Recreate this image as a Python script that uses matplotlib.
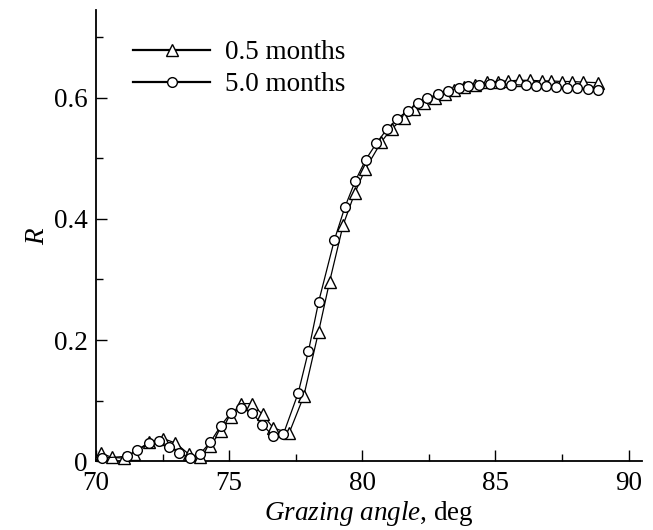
import matplotlib
matplotlib.use("Agg")
import matplotlib.pyplot as plt
from matplotlib.lines import Line2D
from matplotlib.ticker import MultipleLocator, FuncFormatter

plt.rcParams['font.family'] = ['Liberation Serif', 'DejaVu Serif']
plt.rcParams['mathtext.fontset'] = 'custom'
plt.rcParams['mathtext.it'] = 'Liberation Serif:italic'
plt.rcParams['mathtext.rm'] = 'Liberation Serif'

# 0.5 months (triangles)
angle_05 = [70.2, 70.6, 71.05, 71.43, 71.98, 72.53, 72.98, 73.5, 73.9, 74.28,
            74.68, 75.07, 75.46, 75.84, 76.26, 76.65, 77.25, 77.8, 78.36, 78.77,
            79.28, 79.72, 80.11, 80.71, 81.1, 81.55, 81.94, 82.33, 82.73, 83.09,
            83.46, 83.83, 84.22, 84.69, 85.08, 85.47, 85.87, 86.3, 86.73, 87.09,
            87.49, 87.86, 88.3, 88.86]
r_05 = [0.013, 0.006, 0.005, 0.012, 0.031, 0.037, 0.030, 0.011, 0.006, 0.025,
        0.049, 0.073, 0.095, 0.095, 0.077, 0.055, 0.046, 0.107, 0.214, 0.296,
        0.390, 0.443, 0.482, 0.527, 0.549, 0.566, 0.581, 0.591, 0.600, 0.607,
        0.613, 0.618, 0.622, 0.626, 0.627, 0.628, 0.629, 0.629, 0.628, 0.628,
        0.627, 0.627, 0.626, 0.625]

# 5.0 months (circles)
angle_50 = [70.22, 71.18, 71.55, 71.98, 72.37, 72.75, 73.13, 73.52, 73.89, 74.29,
            74.68, 75.07, 75.46, 75.85, 76.25, 76.64, 77.04, 77.59, 77.98, 78.36,
            78.95, 79.35, 79.74, 80.13, 80.53, 80.92, 81.31, 81.7, 82.1, 82.44,
            82.85, 83.23, 83.62, 83.98, 84.37, 84.8, 85.19, 85.59, 86.15, 86.54,
            86.89, 87.28, 87.67, 88.07, 88.46, 88.85]
r_50 = [0.005, 0.008, 0.019, 0.030, 0.033, 0.024, 0.013, 0.005, 0.011, 0.031,
        0.058, 0.080, 0.088, 0.080, 0.060, 0.042, 0.045, 0.112, 0.182, 0.263,
        0.365, 0.420, 0.463, 0.498, 0.525, 0.548, 0.565, 0.579, 0.591, 0.600,
        0.606, 0.612, 0.616, 0.620, 0.621, 0.623, 0.623, 0.622, 0.621, 0.620,
        0.620, 0.618, 0.617, 0.616, 0.615, 0.613]

fig = plt.figure(figsize=(6.53, 5.30), dpi=100)
ax = fig.add_axes([0.147, 0.130, 0.836, 0.851])

ax.plot(angle_05, r_05, color='black', lw=0.9, marker='^', ms=9,
        mfc='white', mec='black', mew=1.0, clip_on=False, zorder=3)
ax.plot(angle_50, r_50, color='black', lw=0.9, marker='o', ms=7,
        mfc='white', mec='black', mew=1.0, clip_on=False, zorder=4)

ax.set_xlim(70, 90.5)
ax.set_ylim(0, 0.745)
ax.xaxis.set_major_locator(MultipleLocator(5))
ax.xaxis.set_minor_locator(MultipleLocator(2.5))
ax.yaxis.set_major_locator(MultipleLocator(0.2))
ax.yaxis.set_minor_locator(MultipleLocator(0.1))
ax.yaxis.set_major_formatter(FuncFormatter(lambda v, p: '0' if abs(v) < 1e-9 else f'{v:.1f}'))

for s in ['top', 'right']:
    ax.spines[s].set_visible(False)
for s in ['left', 'bottom']:
    ax.spines[s].set_linewidth(1.3)

ax.tick_params(which='both', direction='in', width=1.0, labelsize=19.5)
ax.tick_params(which='major', length=8)
ax.tick_params(which='minor', length=5)
ax.tick_params(axis='x', which='major', pad=7)
ax.tick_params(axis='y', which='major', pad=6)

ax.set_xlabel(r'$\mathit{Grazing\ angle}$, deg', fontsize=19.5, labelpad=2)
ax.set_ylabel(r'$\mathit{R}$', fontsize=19.5, labelpad=3)

handles = [
    Line2D([], [], color='black', lw=1.6, marker='^', ms=8, mfc='white', mec='black', mew=1.0),
    Line2D([], [], color='black', lw=1.6, marker='o', ms=7, mfc='white', mec='black', mew=1.0),
]
ax.legend(handles, ['0.5 months', '5.0 months'], loc='upper left',
          bbox_to_anchor=(0.068, 0.933), frameon=False, fontsize=19.5,
          handlelength=2.85, handletextpad=0.55, labelspacing=0.25,
          borderpad=0, borderaxespad=0)

fig.savefig('out.png', dpi=100)
